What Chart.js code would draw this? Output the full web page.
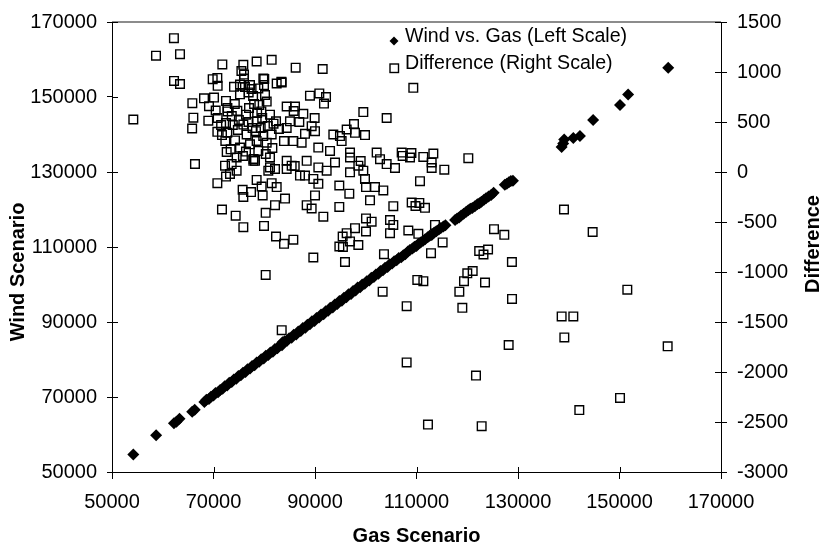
<!DOCTYPE html>
<html>
<head>
<meta charset="utf-8">
<script src="https://cdn.jsdelivr.net/npm/chart.js@4.4.1/dist/chart.umd.min.js"></script>
<style>
  html, body { margin: 0; padding: 0; background: #fff; }
  #wrap { width: 823px; height: 548px; }
</style>
</head>
<body>
<div id="wrap"><canvas id="chart" width="823" height="548"></canvas></div>
<script>
// Wind vs. Gas scenario, [gas, wind] (left scale)
const windVsGas = [
  [54200,54700],[58700,59800],[62200,63000],[62700,63400],[63300,64200],[65800,66100],[66300,66600],
  [68200,68700],[68600,69300],[69100,69500],[69500,70100],[70000,70400],[70400,71100],[70900,71300],
  [71300,71900],[71800,72200],[72200,72900],[72700,73100],[73100,73800],[73600,74000],[74000,74700],
  [74500,74900],[74900,75600],[75400,75800],[75800,76500],[76300,76700],[76700,77400],[77200,77600],
  [77600,78300],[78100,78500],[78500,79200],[79000,79400],[79400,80100],[79900,80300],[80300,81000],
  [80800,81200],[81200,81900],[81700,82100],[82100,82800],[82600,83000],[83000,83700],[83500,83800],
  [83600,84600],[84000,84900],[84500,85000],[84900,85700],[85400,85800],[85800,86600],[86300,86700],
  [86700,87500],[87200,87600],[87600,88400],[88100,88500],[88500,89300],[89000,89400],[89400,90200],
  [89900,90300],[90300,91100],[90800,91200],[91200,92000],[91700,92100],[92100,92900],[92600,93000],
  [93000,93800],[93500,93900],[93900,94700],[94400,94800],[94800,95600],[95300,95700],[95700,96500],
  [96200,96600],[96600,97400],[97100,97500],[97500,98300],[98000,98400],[98400,99200],[98900,99300],
  [99300,100000],[99800,100200],[100200,100900],[100700,101100],[101100,101800],[101600,102000],
  [102000,102700],[102500,102900],[102900,103600],[103400,103800],[103800,104500],[104300,104700],
  [104700,105400],[105200,105600],[105600,106200],[106100,106500],[106500,107100],[107000,107300],
  [107400,107800],[107800,108100],[108300,108800],[108700,109200],[109200,109600],[109600,110100],
  [110000,110300],[110400,110900],[110800,111200],[111300,111700],[111700,112100],[112200,112600],
  [112600,113000],[113000,113200],[113500,113900],[113900,114200],[114400,114700],[114800,115100],
  [115300,115500],[115700,115800],
  [117600,117200],[118000,117600],[118400,117900],[118800,118400],[119300,118900],[119800,119400],
  [120200,119800],[120600,120200],[121000,120400],[121500,120900],[122000,121400],[122400,121700],
  [122800,122100],[123300,122600],[123700,123000],[124200,123500],[124700,123900],[125200,124500],
  [127400,126600],[127800,126900],[128200,127300],[128600,127600],[129000,127700],
  [138600,136700],[138900,137600],[139100,138700],[140900,139100],[142200,139600],[144800,143900],
  [150100,147900],[151700,150700],[159600,157800]
];

// Difference, [gas, difference] (right scale)
const difference = [
  [54200,525],[58670,1163],[62200,1338],[63400,1178],[62220,911],[63400,880],
  [65830,688],[66030,543],[65790,435],[66350,80],
  [71740,1076],[75880,1072],[78500,1105],[81460,1122],
  [69840,928],[70760,941],[70820,862],[74040,852],[75220,875],[76010,974],[76010,935],[75220,777],
  [77190,869],[76930,796],[78830,836],[79820,935],[79950,869],[80150,770],[80480,704],[82450,885],
  [68130,737],[70100,744],[72460,711],[69110,658],[70430,615],[68980,513],[70820,540],[72460,490],
  [72790,606],[72720,392],[70760,402],[71670,369],[74700,612],[76400,573],[75880,474],[78500,507],
  [79030,671],[79430,606],[81130,573],[82320,507],[81460,375],[78370,408],[76530,375],[74240,316],
  [75220,244],[77190,277],[78500,310],[80480,293],[73380,227],[72600,200],[76400,204],[78830,211],
  [72740,641],[72330,310],[81830,483],[83380,903],[80000,930],
  [75500,1010],[76200,850],[77500,830],[77800,760],[78000,680],[77000,640],[78600,590],[79600,540],
  [80700,460],[77700,440],[79300,440],[74800,420],[73800,470],[75000,520],[76900,500],[73600,560],
  [71500,470],[74200,680],[79800,360],[82900,430],[81600,240],[77900,130],[75800,160],[80300,180],
  [86190,1043],[91510,1030],[83430,895],[89010,763],[90850,786],[92170,750],[91770,684],[109370,842],
  [99520,599],[104120,540],[84420,655],[86060,655],[85800,610],[87700,582],[89930,540],[85070,507],
  [86910,500],[89340,458],[88030,382],[90000,408],[84420,441],[83890,309],[85730,309],[87370,293],
  [93610,375],[94920,359],[95250,309],[96240,425],[97680,480],[97880,392],[99850,369],[90650,244],
  [92960,211],[96900,194],[102150,194],[107080,194],[109000,190],
  [72270,63],[73580,79],[74560,145],[78180,112],[81130,145],[74560,13],[72460,-46],[70760,-112],
  [73250,-20],[78500,-79],[80800,13],[82120,30],[81460,-112],[82450,-151],[75740,-178],[75880,-250],
  [77390,-201],[79490,-145],[79690,-234],[82120,-332],[80280,-408],[71670,-375],[74370,-437],
  [75880,-552],[79950,-539],[82320,-645],[77850,112],[81130,46],
  [84420,30],[86000,60],[88360,112],[88030,-36],[89670,-69],[90660,-118],[92300,13],[93940,95],
  [96900,-3],[98540,63],[99000,110],[99850,-69],[100050,-151],[101820,-151],[103460,-184],[104120,79],
  [105760,40],[108720,145],[94790,-135],[96760,-217],[84090,-266],[90000,-234],[88360,-332],
  [89340,-365],[94790,-349],[91640,-447],[100840,-283],[105430,-342],[100050,-464],[101160,-497],
  [97880,-562],[100050,-595],[104780,-480],[105430,-529],[104780,-612],[108390,-585],[96240,-612],
  [95450,-645],[96900,-694],[98540,-730],[94800,-745],[95500,-750],[83900,-718],[85730,-677],
  [89670,-855],[95910,-900],[103590,-822],
  [84420,112],[85400,63],[90660,46],[96900,145],[102810,128],[99520,13],[87040,-36],
  [109050,-305],[110560,-309],[109800,-340],[111670,-358],
  [107270,161],[111340,151],[113320,184],[112990,95],[112990,40],[115480,23],[120210,138],
  [110690,-92],[110360,-618],[113640,-529],[115150,-704],[112860,-812],[125270,-572],[127300,-628],
  [122350,-790],[123200,-825],[124100,-775],[128800,-900],[139060,-375],[144710,-600],
  [103330,-1197],[108060,-1342],[110160,-1079],[111350,-1092],[108060,-1904],[112260,-2526],
  [118440,-1197],[119030,-1358],[119360,-1092],[120010,-1013],[121070,-990],[121720,-2036],
  [122840,-2542],[123500,-1105],[128820,-1269],[128160,-1730],[138600,-1444],[140900,-1444],
  [139130,-1654],[142080,-2381],[150100,-2259],[151540,-1177],[159490,-1743],[80285,-1029],
  [83440,-1582]
];

const seriesNames = ["Wind vs. Gas (Left Scale)", "Difference (Right Scale)"];
const xTitle = "Gas Scenario", leftTitle = "Wind Scenario", rightTitle = "Difference";
const xRange = [50000, 170000, 20000];
const leftRange = [50000, 170000, 20000];
const rightRange = [-3000, 1500, 500];

const FONT = '"Liberation Sans", Arial, sans-serif';
Chart.defaults.font.family = FONT;
Chart.defaults.color = "#000";

function toPoints(arr) {
  return arr.map(p => ({ x: p[0], y: p[1] }));
}

// legend, frame line, inner tick halves and the two vertical titles
const decor = {
  id: "decor",
  afterDraw(chart) {
    const { ctx, chartArea: a, scales } = chart;
    ctx.save();
    ctx.strokeStyle = "#8c8c8c";
    ctx.lineWidth = 2;
    ctx.beginPath();
    ctx.moveTo(a.left, a.top);
    ctx.lineTo(a.right, a.top);
    ctx.stroke();

    ctx.strokeStyle = "#000";
    ctx.lineWidth = 1;
    ctx.beginPath();
    scales.x.ticks.forEach(t => {
      const px = Math.round(scales.x.getPixelForValue(t.value)) + 0.5;
      ctx.moveTo(px, a.bottom); ctx.lineTo(px, a.bottom - 5);
    });
    scales.y.ticks.forEach(t => {
      const py = Math.round(scales.y.getPixelForValue(t.value)) + 0.5;
      ctx.moveTo(a.left, py); ctx.lineTo(a.left + 6, py);
    });
    scales.y2.ticks.forEach(t => {
      const py = Math.round(scales.y2.getPixelForValue(t.value)) + 0.5;
      ctx.moveTo(a.right, py); ctx.lineTo(a.right - 6, py);
    });
    ctx.stroke();

    // legend
    ctx.fillStyle = "#000";
    ctx.beginPath();
    ctx.moveTo(394, 36.5); ctx.lineTo(398.5, 41); ctx.lineTo(394, 45.5); ctx.lineTo(389.5, 41);
    ctx.closePath();
    ctx.fill();
    ctx.lineWidth = 1.4;
    ctx.strokeRect(390, 64, 8.5, 8.5);
    ctx.font = "19.6px " + FONT;
    ctx.textAlign = "left";
    ctx.textBaseline = "middle";
    ctx.fillText(seriesNames[0], 405, 37);
    ctx.fillText(seriesNames[1], 405, 64);

    // vertical axis titles, both reading bottom to top
    ctx.font = "bold 20px " + FONT;
    ctx.textAlign = "center";
    [[leftTitle, 18, 272], [rightTitle, 813, 244]].forEach(([txt, x, y]) => {
      ctx.save();
      ctx.translate(x, y);
      ctx.rotate(-Math.PI / 2);
      ctx.fillText(txt, 0, 0);
      ctx.restore();
    });
    ctx.restore();
  }
};

const tickFont = { size: 20 };

new Chart(document.getElementById("chart"), {
  type: "scatter",
  data: {
    datasets: [
      {
        label: seriesNames[0],
        data: toPoints(windVsGas),
        yAxisID: "y",
        pointStyle: "rectRot",
        pointRadius: 6,
        backgroundColor: "#000",
        borderColor: "#000",
        borderWidth: 0
      },
      {
        label: seriesNames[1],
        data: toPoints(difference),
        yAxisID: "y2",
        pointStyle: "rect",
        pointRadius: 6.1,
        backgroundColor: "rgba(0,0,0,0)",
        borderColor: "#000",
        borderWidth: 1.4
      }
    ]
  },
  options: {
    responsive: false,
    animation: false,
    devicePixelRatio: 1,
    events: [],
    layout: { padding: { top: 16, left: 0, right: 0, bottom: 0 } },
    plugins: {
      legend: { display: false },
      tooltip: { enabled: false }
    },
    scales: {
      x: {
        type: "linear",
        min: xRange[0], max: xRange[1],
        ticks: { stepSize: xRange[2], font: tickFont, padding: 11, maxRotation: 0, autoSkip: false,
                 callback: v => String(v) },
        grid: { drawOnChartArea: false, tickLength: 7, color: "#000" },
        border: { color: "#000", width: 1 },
        title: { display: true, text: xTitle, font: { size: 20, weight: "bold" },
                 padding: { top: 0, bottom: 0 } },
        afterFit: s => { s.height = 76; }
      },
      y: {
        position: "left",
        min: leftRange[0], max: leftRange[1],
        ticks: { stepSize: leftRange[2], font: tickFont, padding: 10, callback: v => String(v) },
        grid: { drawOnChartArea: false, tickLength: 5, color: "#000" },
        border: { color: "#000", width: 1 },
        afterFit: s => { s.width = 112; }
      },
      y2: {
        position: "right",
        min: rightRange[0], max: rightRange[1],
        ticks: { stepSize: rightRange[2], font: tickFont, padding: 10, callback: v => String(v) },
        grid: { drawOnChartArea: false, tickLength: 6, color: "#000" },
        border: { color: "#000", width: 1 },
        afterFit: s => { s.width = 102; }
      }
    }
  },
  plugins: [decor]
});
</script>
</body>
</html>
